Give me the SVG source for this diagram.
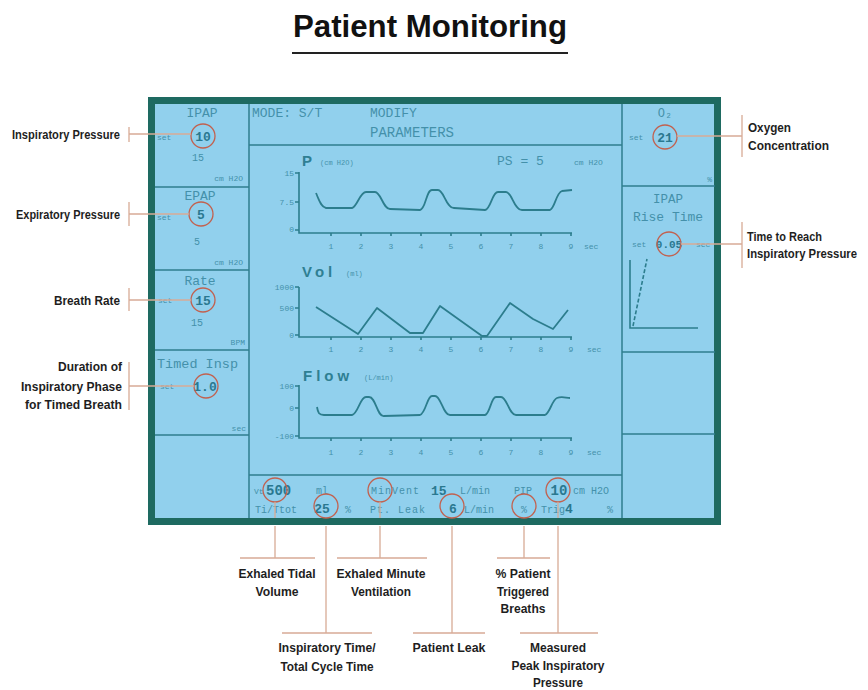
<svg xmlns="http://www.w3.org/2000/svg" width="868" height="690" viewBox="0 0 868 690">
<defs>
<style>
.lbl{font-family:"Liberation Sans",Arial,sans-serif;font-weight:bold;font-size:13.5px;fill:#1e1e1e}
.lcd{font-family:"Liberation Mono","DejaVu Sans Mono",monospace;fill:#4490aa}
.val{font-family:"Liberation Mono","DejaVu Sans Mono",monospace;font-weight:bold;fill:#2a7890}
.sm{font-size:8px}
.md{font-size:10px}
.big{font-family:"Liberation Sans",Arial,sans-serif;font-weight:bold;font-size:15px;fill:#2f7f93}
.lead{stroke:#d8ab96;stroke-width:1.3;fill:none}
.hl{stroke:#c2614f;stroke-width:1.3;fill:none}
.grid{stroke:#2f7e8e;stroke-width:1.5;fill:none}
.axis{stroke:#2c7d8d;stroke-width:1.6;fill:none}
.wave{stroke:#2c7d8d;stroke-width:1.8;fill:none;stroke-linejoin:round}
</style>
</defs>
<rect width="868" height="690" fill="#ffffff"/>

<g id="title">
<text x="293" y="37" font-family="'Liberation Sans',Arial,sans-serif" font-weight="bold" font-size="31" fill="#111" textLength="274" lengthAdjust="spacingAndGlyphs">Patient Monitoring</text>
<line x1="292" y1="53" x2="568" y2="53" stroke="#222" stroke-width="2"/>
</g>

<g id="screen">
<rect x="151.5" y="100.5" width="566" height="421" fill="#91d0ed" stroke="#1e6a61" stroke-width="7"/>
<path class="grid" d="M249 104V518 M622 104V518 M155 187H249 M155 270H249 M155 350H249 M155 435H249 M249 145H622 M249 475H622 M622 186H715 M622 352H715 M622 434H715"/>
</g>

<g id="panel-ipap">
<text class="lcd" x="202" y="117" font-size="13" text-anchor="middle">IPAP</text>
<text class="lcd sm" x="157" y="140">set</text>
<text class="val" x="203" y="141" font-size="13" text-anchor="middle">10</text>
<text class="lcd md" x="198" y="161" text-anchor="middle">15</text>
<text class="lcd sm" x="243" y="181" text-anchor="end">cm H2O</text>
</g>
<g id="panel-epap">
<text class="lcd" x="200" y="200" font-size="13" text-anchor="middle">EPAP</text>
<text class="lcd sm" x="157" y="220">set</text>
<text class="val" x="201" y="219" font-size="13" text-anchor="middle">5</text>
<text class="lcd md" x="197" y="245" text-anchor="middle">5</text>
<text class="lcd sm" x="243" y="265" text-anchor="end">cm H2O</text>
</g>
<g id="panel-rate">
<text class="lcd" x="200" y="285" font-size="13" text-anchor="middle">Rate</text>
<text class="lcd sm" x="158" y="303">set</text>
<text class="val" x="203" y="305" font-size="13" text-anchor="middle">15</text>
<text class="lcd md" x="197" y="326" text-anchor="middle">15</text>
<text class="lcd sm" x="245" y="345" text-anchor="end">BPM</text>
</g>
<g id="panel-timed">
<text class="lcd" x="157" y="368" font-size="13.5">Timed Insp</text>
<text class="lcd sm" x="160" y="389">set</text>
<text class="val" x="205" y="391" font-size="13" text-anchor="middle">1.0</text>
<text class="lcd sm" x="246" y="431" text-anchor="end">sec</text>
</g>

<g id="panel-header">
<text class="lcd" x="252" y="117" font-size="13">MODE: S/T</text>
<text class="lcd" x="370" y="117" font-size="13">MODIFY</text>
<text class="lcd" x="370" y="137" font-size="14">PARAMETERS</text>
</g>

<g id="graph-pressure">
<text class="big" x="302" y="166">P</text>
<text class="lcd" x="320" y="165" font-size="7">(cm H2O)</text>
<text class="lcd" x="497" y="165" font-size="13">PS = 5</text>
<text class="lcd sm" x="574" y="165">cm H2O</text>
<path class="axis" d="M299 172V233H572 M295 173H299 M295 202H299 M295 230H299"/>
<text class="lcd sm" x="294" y="176" text-anchor="end">15</text>
<text class="lcd sm" x="294" y="205" text-anchor="end">7.5</text>
<text class="lcd sm" x="294" y="232" text-anchor="end">0</text>
<path class="axis" stroke-width="1" d="M331 233v3 M361 233v3 M391 233v3 M421 233v3 M451 233v3 M481 233v3 M511 233v3 M541 233v3 M571 233v3"/>
<g class="lcd sm" text-anchor="middle">
<text x="331" y="249">1</text><text x="361" y="249">2</text><text x="391" y="249">3</text><text x="421" y="249">4</text><text x="451" y="249">5</text><text x="481" y="249">6</text><text x="511" y="249">7</text><text x="541" y="249">8</text><text x="571" y="249">9</text>
</g>
<text class="lcd sm" x="584" y="249">sec</text>
<path class="wave" d="M316 193C319 200 321 207 326 208L352 208C357 207 360 192 366 192L375 192C381 192 383 209 390 209L420 210C426 209 426 190 432 190L438 190C444 190 446 208 454 208L485 210C491 209 492 192 498 192L506 192C512 192 514 210 522 210L550 210C555 208 556 193 562 191L572 190"/>
</g>

<g id="graph-volume">
<text class="big" x="302" y="277" letter-spacing="4">Vol</text>
<text class="lcd" x="346" y="276" font-size="7">(ml)</text>
<path class="axis" d="M299 287V337H572 M295 287H299 M295 308H299 M295 335H299"/>
<text class="lcd sm" x="294" y="290" text-anchor="end">1000</text>
<text class="lcd sm" x="294" y="311" text-anchor="end">500</text>
<text class="lcd sm" x="294" y="338" text-anchor="end">0</text>
<path class="axis" stroke-width="1" d="M331 337v3 M361 337v3 M391 337v3 M421 337v3 M451 337v3 M481 337v3 M511 337v3 M541 337v3 M571 337v3"/>
<g class="lcd sm" text-anchor="middle">
<text x="331" y="352">1</text><text x="361" y="352">2</text><text x="391" y="352">3</text><text x="421" y="352">4</text><text x="451" y="352">5</text><text x="481" y="352">6</text><text x="511" y="352">7</text><text x="541" y="352">8</text><text x="571" y="352">9</text>
</g>
<text class="lcd sm" x="587" y="352">sec</text>
<polyline class="wave" points="316,307 358,334 377,308 410,333 423,333 440,306 482,336 487,336 510,303 533,319 553,329 568,310"/>
</g>

<g id="graph-flow">
<text class="big" x="303" y="381" letter-spacing="4">Flow</text>
<text class="lcd" x="364" y="380" font-size="7">(L/min)</text>
<path class="axis" d="M299 385V438H572 M295 386H299 M295 408H299 M295 436H299"/>
<text class="lcd sm" x="294" y="389" text-anchor="end">100</text>
<text class="lcd sm" x="294" y="411" text-anchor="end">0</text>
<text class="lcd sm" x="294" y="439" text-anchor="end">-100</text>
<path class="axis" stroke-width="1" d="M331 438v3 M361 438v3 M391 438v3 M421 438v3 M451 438v3 M481 438v3 M511 438v3 M541 438v3 M571 438v3"/>
<g class="lcd sm" text-anchor="middle">
<text x="331" y="455">1</text><text x="361" y="455">2</text><text x="391" y="455">3</text><text x="421" y="455">4</text><text x="451" y="455">5</text><text x="481" y="455">6</text><text x="511" y="455">7</text><text x="541" y="455">8</text><text x="571" y="455">9</text>
</g>
<text class="lcd sm" x="587" y="455">sec</text>
<path class="wave" d="M317 407C318 413 319 415 324 415L352 415C358 414 360 397 366 397L369 397C376 397 377 417 384 416L420 415C426 413 427 396 432 396L435 396C441 396 443 415 450 415L485 415C490 414 491 397 496 397L501 397C507 397 509 415 516 415L545 415C550 413 552 400 557 398C562 396 566 398 570 398"/>
</g>

<g id="status-row">
<text class="lcd sm" x="254" y="494">Vt</text>
<text class="val" x="266" y="495" font-size="14" fill="#4f9ab0">500</text>
<text class="lcd md" x="316" y="494">ml</text>
<text class="lcd md" x="371" y="494" letter-spacing="1">MinVent</text>
<text class="val" x="431" y="495" font-size="13">15</text>
<text class="lcd md" x="460" y="494">L/min</text>
<text class="lcd md" x="514" y="494">PIP</text>
<text class="val" x="559" y="495" font-size="14" text-anchor="middle">10</text>
<text class="lcd md" x="573" y="494">cm H2O</text>
<text class="lcd md" x="255" y="513">Ti/Ttot</text>
<text class="val" x="322" y="513" font-size="13" text-anchor="middle">25</text>
<text class="lcd md" x="345" y="513">%</text>
<text class="lcd md" x="370" y="513" letter-spacing="1">Pt. Leak</text>
<text class="val" x="453" y="513" font-size="13" text-anchor="middle">6</text>
<text class="lcd md" x="464" y="513">L/min</text>
<text class="lcd md" x="524" y="513" text-anchor="middle">%</text>
<text class="lcd md" x="541" y="513">Trig</text>
<text class="val" x="569" y="513" font-size="13" text-anchor="middle">4</text>
<text class="lcd md" x="607" y="513">%</text>
</g>

<g id="panel-o2">
<text class="lcd" x="665" y="117" font-size="12" text-anchor="middle">O₂</text>
<text class="lcd sm" x="629" y="140">set</text>
<text class="val" x="665" y="142" font-size="13" text-anchor="middle">21</text>
<text class="lcd sm" x="712" y="182" text-anchor="end">%</text>
</g>
<g id="panel-rise">
<text class="lcd" x="668" y="203" font-size="12.5" text-anchor="middle">IPAP</text>
<text class="lcd" x="668" y="221" font-size="13" text-anchor="middle">Rise Time</text>
<text class="lcd sm" x="632" y="247">set</text>
<text class="val" x="669" y="248" font-size="11" text-anchor="middle">0.05</text>
<text class="lcd sm" x="696" y="247">sec</text>
<path class="axis" stroke-width="1.2" d="M630 260V328H698"/>
<path class="axis" stroke-width="1.2" stroke-dasharray="4 2" d="M633 326L647 259"/>
</g>

<g id="highlights">
<circle class="hl" cx="203" cy="136" r="12"/>
<circle class="hl" cx="201" cy="214" r="12"/>
<circle class="hl" cx="203" cy="300" r="12"/>
<circle class="hl" cx="206" cy="386" r="12"/>
<circle class="hl" cx="665" cy="137" r="12"/>
<circle class="hl" cx="669" cy="244" r="12"/>
<circle class="hl" cx="275" cy="490" r="12"/>
<circle class="hl" cx="326" cy="506" r="12"/>
<circle class="hl" cx="380" cy="490" r="12"/>
<circle class="hl" cx="452" cy="506" r="12"/>
<circle class="hl" cx="524" cy="506" r="12"/>
<circle class="hl" cx="558" cy="490" r="12"/>
</g>

<g id="connectors">
<path class="lead" d="M129 127V142 M129 134H191"/>
<path class="lead" d="M129 202V226 M129 214H189"/>
<path class="lead" d="M129 288V311 M129 300H191"/>
<path class="lead" d="M129 362V410 M129 386H194"/>
<path class="lead" d="M742 115V157 M677 136H742"/>
<path class="lead" d="M742 222V268 M681 244H742"/>
<path class="lead" d="M275 502V518 M275 526V558 M240 558H315"/>
<path class="lead" d="M326 526V633 M282 633H372"/>
<path class="lead" d="M380 502V518 M380 526V558 M337 558H427"/>
<path class="lead" d="M452 526V633 M413 633H485"/>
<path class="lead" d="M524 526V558 M497 558H550"/>
<path class="lead" d="M558 502V518 M558 526V633 M520 633H598"/>
</g>

<g id="label-inspiratory-pressure"><text class="lbl" x="120" y="139" text-anchor="end" textLength="108" lengthAdjust="spacingAndGlyphs">Inspiratory Pressure</text></g>
<g id="label-expiratory-pressure"><text class="lbl" x="120" y="219" text-anchor="end" textLength="104" lengthAdjust="spacingAndGlyphs">Expiratory Pressure</text></g>
<g id="label-breath-rate"><text class="lbl" x="120" y="305" text-anchor="end" textLength="66" lengthAdjust="spacingAndGlyphs">Breath Rate</text></g>
<g id="label-duration">
<text class="lbl" x="122" y="371" text-anchor="end" textLength="64" lengthAdjust="spacingAndGlyphs">Duration of</text>
<text class="lbl" x="122" y="391" text-anchor="end" textLength="101" lengthAdjust="spacingAndGlyphs">Inspiratory Phase</text>
<text class="lbl" x="122" y="409" text-anchor="end" textLength="97" lengthAdjust="spacingAndGlyphs">for Timed Breath</text>
</g>
<g id="label-oxygen">
<text class="lbl" x="748" y="132" textLength="43" lengthAdjust="spacingAndGlyphs">Oxygen</text>
<text class="lbl" x="748" y="150" textLength="81" lengthAdjust="spacingAndGlyphs">Concentration</text>
</g>
<g id="label-rise-time">
<text class="lbl" x="747" y="241" textLength="75" lengthAdjust="spacingAndGlyphs">Time to Reach</text>
<text class="lbl" x="747" y="258" style="font-size:12px" textLength="110" lengthAdjust="spacingAndGlyphs">Inspiratory Pressure</text>
</g>
<g id="label-tidal-volume" text-anchor="middle">
<text class="lbl" x="277" y="578" textLength="77" lengthAdjust="spacingAndGlyphs">Exhaled Tidal</text>
<text class="lbl" x="277" y="596" textLength="43" lengthAdjust="spacingAndGlyphs">Volume</text>
</g>
<g id="label-cycle-time" text-anchor="middle">
<text class="lbl" x="327" y="652" textLength="97" lengthAdjust="spacingAndGlyphs">Inspiratory Time/</text>
<text class="lbl" x="327" y="671" textLength="93" lengthAdjust="spacingAndGlyphs">Total Cycle Time</text>
</g>
<g id="label-minute-ventilation" text-anchor="middle">
<text class="lbl" x="381" y="578" textLength="89" lengthAdjust="spacingAndGlyphs">Exhaled Minute</text>
<text class="lbl" x="381" y="596" textLength="60" lengthAdjust="spacingAndGlyphs">Ventilation</text>
</g>
<g id="label-patient-leak" text-anchor="middle">
<text class="lbl" x="449" y="652" textLength="73" lengthAdjust="spacingAndGlyphs">Patient Leak</text>
</g>
<g id="label-triggered" text-anchor="middle">
<text class="lbl" x="523" y="578" textLength="55" lengthAdjust="spacingAndGlyphs">% Patient</text>
<text class="lbl" x="523" y="596" textLength="52" lengthAdjust="spacingAndGlyphs">Triggered</text>
<text class="lbl" x="523" y="613" textLength="45" lengthAdjust="spacingAndGlyphs">Breaths</text>
</g>
<g id="label-peak-pressure" text-anchor="middle">
<text class="lbl" x="558" y="652" textLength="56" lengthAdjust="spacingAndGlyphs">Measured</text>
<text class="lbl" x="558" y="670" textLength="93" lengthAdjust="spacingAndGlyphs">Peak Inspiratory</text>
<text class="lbl" x="558" y="687" textLength="50" lengthAdjust="spacingAndGlyphs">Pressure</text>
</g>
</svg>
